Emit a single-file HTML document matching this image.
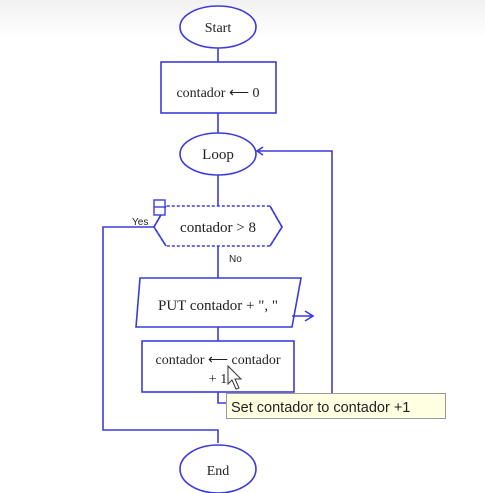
<!DOCTYPE html>
<html><head><style>
html,body{margin:0;padding:0;background:#fff;}
svg{display:block}
</style></head><body>
<svg width="485" height="493" viewBox="0 0 485 493" xmlns="http://www.w3.org/2000/svg">
<defs><linearGradient id="g" x1="0" y1="0" x2="0" y2="1"><stop offset="0" stop-color="#f2f2f2"/><stop offset="1" stop-color="#fff"/></linearGradient></defs>
<rect width="485" height="493" fill="#fff"/>
<rect width="485" height="40" fill="url(#g)"/>
<g stroke="#3b3bdc" stroke-width="1.6" fill="none">
<ellipse cx="218" cy="27" rx="38" ry="21" fill="#fff"/>
<line x1="218" y1="48" x2="218" y2="62"/>
<rect x="161" y="62" width="115" height="51" fill="#fff"/>
<line x1="218" y1="113" x2="218" y2="133"/>
<ellipse cx="218" cy="154" rx="38" ry="21" fill="#fff"/>
<line x1="218" y1="175" x2="218" y2="206"/>
<path d="M154 227 L166 206 L270 206 L282 227 L270 246 L166 246 Z" fill="#fff" stroke-dasharray="3,2"/>
<path d="M154 227 L166 206 M270 206 L282 227 L270 246 M166 246 L154 227"/>
<line x1="218" y1="246" x2="218" y2="278"/>
<path d="M140 278 L301 278 L292 327 L136 327 Z" fill="#fff"/>
<path d="M292 316 L313 316 M305 311 L313 316 L305 321"/>
<line x1="218" y1="327" x2="218" y2="341"/>
<rect x="142" y="341" width="152" height="51" fill="#fff"/>
<path d="M218 392 L218 403 L226 403"/>
<path d="M332 393 L332 151 L257 151 M263 147 L257 151 L263 155"/>
<path d="M154 227 L103 227 L103 430 L218 430 L218 443"/>
<ellipse cx="218" cy="469" rx="38" ry="24" fill="#fff"/>
<rect x="154" y="200" width="11" height="15" fill="#fff" stroke-width="1.4"/>
<line x1="154" y1="207" x2="165" y2="207" stroke-width="1.4"/>
</g>
<g font-family="Liberation Serif, serif" font-size="14" fill="#222" text-anchor="middle">
<text x="218" y="32">Start</text>
<text x="218" y="97">contador ⟵ 0</text>
<text x="218" y="159" font-size="15">Loop</text>
<text x="218" y="232" font-size="15">contador &gt; 8</text>
<text x="218" y="310" font-size="15">PUT contador + ", "</text>
<text x="218" y="364">contador ⟵ contador</text>
<text x="218" y="383">+ 1</text>
<text x="218" y="475">End</text>
</g>
<g font-family="Liberation Sans, sans-serif" font-size="10" fill="#222">
<text x="132" y="225">Yes</text>
<text x="229" y="262">No</text>
</g>
<rect x="226.5" y="393.5" width="219" height="25" fill="#ffffe1" stroke="#999"/>
<text x="231" y="412" font-family="Liberation Sans, sans-serif" font-size="14.5" fill="#222">Set contador to contador +1</text>
<path d="M228 366 L228 384 L232 380 L236 389 L239 388 L235 379 L241 379 Z" fill="#fff" stroke="#333" stroke-width="1"/>
</svg>
</body></html>
